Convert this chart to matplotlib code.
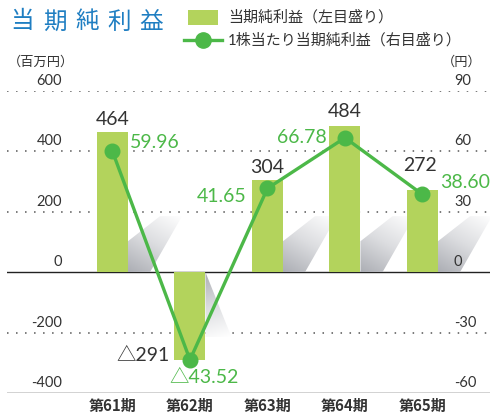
import numpy as np
import matplotlib
matplotlib.use('Agg')
import matplotlib.pyplot as plt
from matplotlib.patches import Polygon, Rectangle
from matplotlib.lines import Line2D
from matplotlib.colors import LinearSegmentedColormap

# ---------------- data ----------------
categories = ['第61期', '第62期', '第63期', '第64期', '第65期']
net_income = [464, -291, 304, 484, 272]          # 百万円 (left axis)
eps = [59.96, -43.52, 41.65, 66.78, 38.60]       # 円 (right axis)
left_ticks = [600, 400, 200, 0, -200, -400]
right_ticks = [90, 60, 30, 0, -30, -60]

# ---------------- styling ----------------
BAR_C = '#b3d35c'
LINE_C = '#4cb848'
TEXT_C = '#333333'
TITLE_C = '#1f7ec2'
NUM_FONT = ['Lato', 'Noto Sans CJK JP', 'DejaVu Sans']
JP_FONT = ['Noto Sans CJK JP', 'DejaVu Sans']

W, H = 492, 416
fig = plt.figure(figsize=(W / 100, H / 100), dpi=100)


def fx(px):
    return px / W


def fy(py):
    return 1 - py / H


def pt(px):
    return px * 0.72


ax = fig.add_axes([fx(7), fy(393), (490 - 7) / W, (393 - 91) / H])
x = np.arange(len(categories))
XL = (-1.361, 4.871)
ax.set_xlim(*XL)
ax.set_ylim(left_ticks[-1], left_ticks[0])
ax.axis('off')

# grid lines
for t in left_ticks:
    if t in (0, left_ticks[-1]):
        ax.axhline(t, color='#222222', lw=1.0, zorder=1)
    else:
        ax.axhline(t, color='#555555', lw=1.1, ls=(0, (1.0, 4.9)), zorder=1)

# shadows
shadow_cmap = LinearSegmentedColormap.from_list('sh', ['#acaeb4', '#dcdde0', '#ffffff'])


def draw_shadow(xr, base, verts_px, direction):
    ox, oy = ax.transData.transform((xr, base))
    inv = ax.transData.inverted()
    verts = [inv.transform((ox + vx, oy + vy)) for vx, vy in verts_px]
    verts = np.array(verts)
    poly = Polygon(verts, closed=True, facecolor='none', edgecolor='none',
                   transform=ax.transData)
    ax.add_patch(poly)
    n = 100
    xs = np.array([v[0] for v in verts_px], float)
    ys = np.array([v[1] for v in verts_px], float)
    gx, gy = np.meshgrid(np.linspace(xs.min(), xs.max(), n),
                         np.linspace(ys.min(), ys.max(), n))
    dx, dy = direction
    proj = gx * dx + gy * dy
    t = (proj - proj.min()) / (proj.max() - proj.min())
    im = ax.imshow(t, cmap=shadow_cmap, vmin=0, vmax=1, origin='lower',
                   extent=(verts[:, 0].min(), verts[:, 0].max(),
                           verts[:, 1].min(), verts[:, 1].max()),
                   aspect='auto', zorder=2, interpolation='bilinear')
    im.set_clip_path(poly)


bw = 0.4
for i, v in enumerate(net_income):
    xr = x[i] + bw / 2
    if v >= 0:
        draw_shadow(xr, 0, [(0, 0), (22, 0), (54, 56), (32, 56), (0, 31)], (0.6, 1.0))
    else:
        draw_shadow(xr, 0, [(0, 0), (26, -65), (0, -65)], (0.3, -1.0))

ax.set_xlim(*XL)
ax.set_ylim(left_ticks[-1], left_ticks[0])

ax.bar(x, net_income, width=bw, color=BAR_C, zorder=3)

# axis labels (left / right)
for t in left_ticks:
    ax.annotate(str(t), xy=(0, t), xycoords=('axes fraction', 'data'),
                xytext=(pt(55), pt(10)), textcoords='offset points',
                ha='right', va='center', fontsize=10.5, color=TEXT_C,
                family=NUM_FONT, zorder=6)
for t, tl in zip(left_ticks, right_ticks):
    ax.annotate(str(tl), xy=(1, t), xycoords=('axes fraction', 'data'),
                xytext=(pt(-36), pt(10)), textcoords='offset points',
                ha='left', va='center', fontsize=10.5, color=TEXT_C,
                family=NUM_FONT, zorder=6)

# category labels
for i, c in enumerate(categories):
    ax.annotate(c, xy=(x[i], 0), xycoords=('data', 'axes fraction'),
                xytext=(0, pt(-13)), textcoords='offset points',
                ha='center', va='center', fontsize=10.8, color=TEXT_C,
                family=JP_FONT, weight='bold')

# bar value labels
bar_off = [(0, 13, 'center'), (-20.5, 5, 'right'), (0, 13, 'center'),
           (0, 15, 'center'), (-2, 25, 'center')]
for i, v in enumerate(net_income):
    s = str(v) if v >= 0 else '△' + str(-v)
    dx, dy, ha = bar_off[i]
    ax.annotate(s, xy=(x[i], v), xytext=(pt(dx), pt(dy)),
                textcoords='offset points', ha=ha, va='center',
                fontsize=14, color=TEXT_C, family=NUM_FONT, zorder=6)

# line on right axis
ax2 = ax.twinx()
ax2.set_position(ax.get_position())
ax2.set_xlim(*XL)
ax2.set_ylim(right_ticks[-1], right_ticks[0])
ax2.axis('off')
ax2.plot(x, eps, color=LINE_C, lw=2.4, marker='o', ms=10.5, zorder=5,
         solid_joinstyle='round')

eps_off = [(17, 9, 'left'), (-20.5, -18, 'left'), (-20.5, -8, 'right'),
           (-18.5, 0, 'right'), (17.5, 12, 'left')]
for i, v in enumerate(eps):
    s = f'{v:.2f}' if v >= 0 else '△' + f'{-v:.2f}'
    dx, dy, ha = eps_off[i]
    ax2.annotate(s, xy=(x[i], v), xytext=(pt(dx), pt(dy)),
                 textcoords='offset points', ha=ha, va='center',
                 fontsize=14, color=LINE_C, family=NUM_FONT, zorder=6)

# unit labels
fig.text(fx(8), fy(62), '（百万円）', ha='left', va='center', fontsize=9.5,
         color=TEXT_C, family=JP_FONT)
fig.text(fx(482), fy(62), '（円）', ha='right', va='center', fontsize=9.5,
         color=TEXT_C, family=JP_FONT)

# title
for ch, cx in zip('当期純利益', [22.5, 55, 87, 119, 151]):
    fig.text(fx(cx), fy(22), ch, ha='center', va='center', fontsize=17,
             color=TITLE_C, family=JP_FONT)

# legend
fig.patches.append(Rectangle((fx(188), fy(25)), (218 - 188) / W, 15 / H,
                             transform=fig.transFigure, facecolor=BAR_C,
                             edgecolor='none'))
fig.text(fx(228), fy(17), '当期純利益（左目盛り）', ha='left', va='center',
         fontsize=10.8, color=TEXT_C, family=JP_FONT)
fig.lines.append(Line2D([fx(184), fx(222)], [fy(40), fy(40)],
                        transform=fig.transFigure, color=LINE_C, lw=2.4))
fig.lines.append(Line2D([fx(203)], [fy(40)], transform=fig.transFigure,
                        color=LINE_C, marker='o', ms=11))
fig.text(fx(228), fy(40), '1株当たり当期純利益（右目盛り）', ha='left', va='center',
         fontsize=10.8, color=TEXT_C, family=NUM_FONT)

fig.savefig('out.png', dpi=100)
